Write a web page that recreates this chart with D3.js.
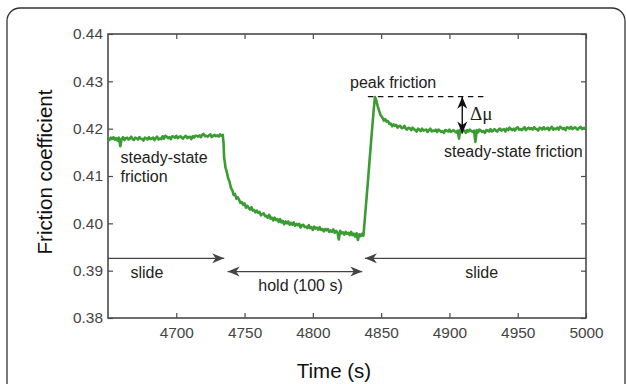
<!DOCTYPE html>
<html>
<head>
  <script src="https://d3js.org/d3.v7.min.js"></script>
  <style>
    body { margin: 0; background: #fff; }
    text { font-family: Helvetica, Arial, "Liberation Sans", sans-serif; }
  </style>
</head>
<body>
<div id="chart"></div>
<script>
// friction record, [time (s), friction coefficient]
var slideBefore = [
  [4650, .4179], [4651, .4176], [4652, .4181], [4653, .4178], [4654, .4182], [4655, .4177],
  [4656, .4180], [4657, .4175], [4658, .4181], [4659, .4163], [4660, .4178], [4661, .4182],
  [4662, .4176], [4663, .4180], [4664, .4181], [4665, .4177], [4666, .4179], [4667, .4183],
  [4668, .4178], [4669, .4176], [4670, .4181], [4671, .4180], [4672, .4177], [4673, .4182],
  [4674, .4179], [4675, .4178], [4676, .4175], [4677, .4181], [4678, .4180], [4679, .4177],
  [4680, .4182], [4681, .4178], [4682, .4179], [4683, .4181], [4684, .4176], [4685, .4180],
  [4686, .4183], [4687, .4177], [4688, .4179], [4689, .4178], [4690, .4184], [4691, .4179],
  [4692, .4185], [4693, .4183], [4694, .4180], [4695, .4182], [4696, .4178], [4697, .4184],
  [4698, .4183], [4699, .4181], [4700, .4185], [4701, .4180], [4702, .4182], [4703, .4184],
  [4704, .4181], [4705, .4179], [4706, .4183], [4707, .4185], [4708, .4180], [4709, .4182],
  [4710, .4183], [4711, .4178], [4712, .4184], [4713, .4181], [4714, .4185], [4715, .4185],
  [4716, .4183], [4717, .4186], [4718, .4182], [4719, .4187], [4720, .4189], [4721, .4184],
  [4722, .4185], [4723, .4183], [4724, .4186], [4725, .4188], [4726, .4182], [4727, .4185],
  [4728, .4187], [4729, .4184], [4730, .4186], [4731, .4183], [4732, .4188], [4733, .4185],
  [4734, .4187]
];
var hold = [
  [4734.6, .4170], [4735, .4140], [4735.6, .4128], [4736, .4118], [4737, .4108], [4738, .4095],
  [4739, .4088], [4740, .4075], [4741, .4070], [4742, .4060], [4743, .4062], [4744, .4052],
  [4745, .4055], [4746, .4050], [4747, .4043], [4748, .4045], [4749, .4039], [4750, .4042],
  [4751, .4033], [4752, .4037], [4753, .4033], [4754, .4029], [4755, .4034], [4756, .4027],
  [4757, .4028], [4758, .4023], [4759, .4027], [4760, .4022], [4761, .4024], [4762, .4017],
  [4763, .4020], [4764, .4021], [4765, .4015], [4766, .4016], [4767, .4012], [4768, .4018],
  [4769, .4010], [4770, .4012], [4771, .4006], [4772, .4012], [4773, .4007], [4774, .4009],
  [4775, .4003], [4776, .4009], [4777, .4002], [4778, .4005], [4779, .3998], [4780, .4004],
  [4781, .4000], [4782, .4004], [4783, .3997], [4784, .4001], [4785, .3997], [4786, .4002],
  [4787, .3995], [4788, .3999], [4789, .3996], [4790, .3999], [4791, .3991], [4792, .3996],
  [4793, .3997], [4794, .3992], [4795, .3993], [4796, .3990], [4797, .3996], [4798, .3990],
  [4799, .3992], [4800, .3986], [4801, .3993], [4802, .3989], [4803, .3991], [4804, .3986],
  [4805, .3992], [4806, .3986], [4807, .3988], [4808, .3983], [4809, .3988], [4810, .3985],
  [4811, .3988], [4812, .3982], [4813, .3985], [4814, .3982], [4815, .3987], [4816, .3980],
  [4817, .3984], [4818, .3981], [4819, .3966], [4820, .3984], [4821, .3979], [4822, .3981],
  [4823, .3976], [4824, .3982], [4825, .3978], [4826, .3980], [4827, .3975], [4828, .3982],
  [4829, .3975], [4830, .3978], [4831, .3972], [4832, .3979], [4833, .3965], [4834, .3977],
  [4835, .3973], [4836, .3978], [4837, .3974]
];
var slideAfter = [
  [4837.5, .3990], [4838.5, .4025], [4839.5, .4060], [4840.5, .4095], [4841.5, .4132],
  [4842.5, .4168], [4843.5, .4203], [4844.5, .4238], [4845.5, .4267], [4846.5, .4259],
  [4847.5, .4247], [4848.5, .4238], [4849.5, .4229], [4850.5, .4225],
  [4851, .4223], [4852, .4217], [4853, .4220], [4854, .4215], [4855, .4216], [4856, .4210],
  [4857, .4211], [4858, .4205], [4859, .4209], [4860, .4206], [4861, .4208], [4862, .4202],
  [4863, .4205], [4864, .4206], [4865, .4201], [4866, .4202], [4867, .4206], [4868, .4200],
  [4869, .4198], [4870, .4202], [4871, .4201], [4872, .4197], [4873, .4202], [4874, .4199],
  [4875, .4197], [4876, .4194], [4877, .4200], [4878, .4198], [4879, .4195], [4880, .4200],
  [4881, .4196], [4882, .4197], [4883, .4198], [4884, .4193], [4885, .4197], [4886, .4200],
  [4887, .4194], [4888, .4196], [4889, .4195], [4890, .4198], [4891, .4193], [4892, .4198],
  [4893, .4196], [4894, .4193], [4895, .4195], [4896, .4191], [4897, .4197], [4898, .4196],
  [4899, .4194], [4900, .4198], [4901, .4193], [4902, .4195], [4903, .4197], [4904, .4194],
  [4905, .4192], [4906, .4196], [4907, .4179], [4908, .4198], [4909, .4193], [4910, .4195],
  [4911, .4196], [4912, .4191], [4913, .4197], [4914, .4194], [4915, .4198], [4916, .4195],
  [4917, .4193], [4918, .4196], [4919, .4172], [4920, .4197], [4921, .4192], [4922, .4198],
  [4923, .4196], [4924, .4193], [4925, .4195], [4926, .4191], [4927, .4197], [4928, .4196],
  [4929, .4194], [4930, .4199], [4931, .4194], [4932, .4196], [4933, .4199], [4934, .4196],
  [4935, .4194], [4936, .4198], [4937, .4200], [4938, .4196], [4939, .4198], [4940, .4199],
  [4941, .4194], [4942, .4200], [4943, .4197], [4944, .4202], [4945, .4199], [4946, .4197],
  [4947, .4200], [4948, .4196], [4949, .4201], [4950, .4203], [4951, .4198], [4952, .4199],
  [4953, .4197], [4954, .4200], [4955, .4203], [4956, .4197], [4957, .4200], [4958, .4202],
  [4959, .4199], [4960, .4201], [4961, .4198], [4962, .4203], [4963, .4200], [4964, .4199],
  [4965, .4196], [4966, .4202], [4967, .4201], [4968, .4198], [4969, .4203], [4970, .4199],
  [4971, .4200], [4972, .4202], [4973, .4197], [4974, .4201], [4975, .4204], [4976, .4198],
  [4977, .4200], [4978, .4199], [4979, .4202], [4980, .4198], [4981, .4204], [4982, .4202],
  [4983, .4199], [4984, .4201], [4985, .4197], [4986, .4203], [4987, .4202], [4988, .4200],
  [4989, .4204], [4990, .4199], [4991, .4201], [4992, .4203], [4993, .4200], [4994, .4198],
  [4995, .4202], [4996, .4204], [4997, .4199], [4998, .4201], [4999, .4202], [5000, .4200]
];

var xTicks = [4700, 4750, 4800, 4850, 4900, 4950, 5000];
var yTicks = [0.38, 0.39, 0.40, 0.41, 0.42, 0.43, 0.44];

// annotation anchors in data units
var peakLine = [[4840.3, .42675], [4926, .42675]];
var deltaMu = [4909.4, .42675, .4190];
var slideLeftArrow = [4650, 4735.1, .3926];
var holdArrow = [4737.6, 4836.2, .3898];
var slideRightArrow = [5000, 4838.1, .3926];

var W = 626, H = 384;
var margin = {top: 34, left: 108};
var width = 586 - margin.left;
var height = 318 - margin.top;

var svg = d3.select("#chart").append("svg")
  .attr("width", W)
  .attr("height", H);

// rounded frame
svg.append("rect")
  .attr("x", 7).attr("y", 8)
  .attr("width", 618).attr("height", 420)
  .attr("rx", 13)
  .attr("fill", "none")
  .attr("stroke", "#333")
  .attr("stroke-width", 1.3);

var defs = svg.append("defs");
function head(id, color) {
  defs.append("marker")
    .attr("id", id)
    .attr("viewBox", "-12 -6 14 12")
    .attr("refX", 0).attr("refY", 0)
    .attr("markerWidth", 14).attr("markerHeight", 12)
    .attr("markerUnits", "userSpaceOnUse")
    .attr("orient", "auto-start-reverse")
    .append("path")
    .attr("d", "M0,0 L-12,-5 L-8.5,0 L-12,5 Z")
    .attr("fill", color);
}
head("hd", "#444");
head("hk", "#111");

var g = svg.append("g")
  .attr("transform", "translate(" + margin.left + "," + margin.top + ")");

var x = d3.scaleLinear().domain([4650, 5000]).range([0, width]);
var y = d3.scaleLinear().domain([0.38, 0.44]).range([height, 0]);

var axisColor = "#4a4a4a";
function styleAxis(sel) {
  sel.select(".domain").remove();
  sel.selectAll("line").attr("stroke", axisColor).attr("stroke-width", 1.2);
  sel.selectAll("text").attr("fill", "#444").style("font-size", "15.4px");
}

g.append("g")
  .attr("transform", "translate(0," + height + ")")
  .call(d3.axisBottom(x).tickValues(xTicks).tickSizeInner(-5).tickSizeOuter(0).tickPadding(9.5).tickFormat(d3.format("d")))
  .call(styleAxis);
g.append("g")
  .call(d3.axisTop(x).tickValues(xTicks).tickSizeInner(-5).tickSizeOuter(0).tickFormat(""))
  .call(styleAxis);
g.append("g")
  .call(d3.axisLeft(y).tickValues(yTicks).tickSizeInner(-5).tickSizeOuter(0).tickPadding(5).tickFormat(d3.format(".2f")))
  .call(styleAxis);
g.append("g")
  .attr("transform", "translate(" + width + ",0)")
  .call(d3.axisRight(y).tickValues(yTicks).tickSizeInner(-5).tickSizeOuter(0).tickFormat(""))
  .call(styleAxis);

g.append("rect")
  .attr("width", width).attr("height", height)
  .attr("fill", "none")
  .attr("stroke", axisColor)
  .attr("stroke-width", 1.6);

var line = d3.line()
  .x(function(d) { return x(d[0]); })
  .y(function(d) { return y(d[1]); });

g.append("path")
  .datum(slideBefore.concat(hold, slideAfter))
  .attr("d", line)
  .attr("fill", "none")
  .attr("stroke", "#3a9c33")
  .attr("stroke-width", 2.6)
  .attr("stroke-linejoin", "round");

// peak friction dashed level
g.append("path")
  .datum(peakLine)
  .attr("d", line)
  .attr("stroke", "#111")
  .attr("stroke-width", 1.3)
  .attr("stroke-dasharray", "5.5,4.5");

// delta mu arrow
g.append("line")
  .attr("x1", x(deltaMu[0])).attr("x2", x(deltaMu[0]))
  .attr("y1", y(deltaMu[1])).attr("y2", y(deltaMu[2]))
  .attr("stroke", "#111")
  .attr("stroke-width", 1.4)
  .attr("marker-start", "url(#hk)")
  .attr("marker-end", "url(#hk)");

function arrow(a, both) {
  g.append("line")
    .attr("x1", x(a[0])).attr("x2", x(a[1]))
    .attr("y1", y(a[2])).attr("y2", y(a[2]))
    .attr("stroke", "#444")
    .attr("stroke-width", 1.4)
    .attr("marker-start", both ? "url(#hd)" : null)
    .attr("marker-end", "url(#hd)");
}
arrow(slideLeftArrow, false);
arrow(holdArrow, true);
arrow(slideRightArrow, false);

function label(px, py, txt, anchor, size, family) {
  var t = svg.append("text")
    .attr("x", px).attr("y", py)
    .attr("text-anchor", anchor || "start")
    .attr("fill", "#222")
    .style("font-size", (size || 16) + "px")
    .text(txt);
  if (family) t.style("font-family", family);
  return t;
}

label(120.5, 163.3, "steady-state");
label(120.5, 181.7, "friction");
label(350, 88.3, "peak friction");
label(470, 120, "\u0394\u03bc", "start", 19, "'Liberation Serif', 'Times New Roman', serif");
label(444, 157.3, "steady-state friction");
label(130.5, 278.3, "slide");
label(258.3, 290.5, "hold (100 s)");
label(481.7, 278.3, "slide", "middle");

svg.append("text")
  .attr("x", 334).attr("y", 378)
  .attr("text-anchor", "middle")
  .attr("fill", "#111")
  .style("font-size", "20.5px")
  .text("Time (s)");

svg.append("text")
  .attr("transform", "translate(52,172) rotate(-90)")
  .attr("text-anchor", "middle")
  .attr("fill", "#111")
  .style("font-size", "20.5px")
  .text("Friction coefficient");
</script>
</body>
</html>
